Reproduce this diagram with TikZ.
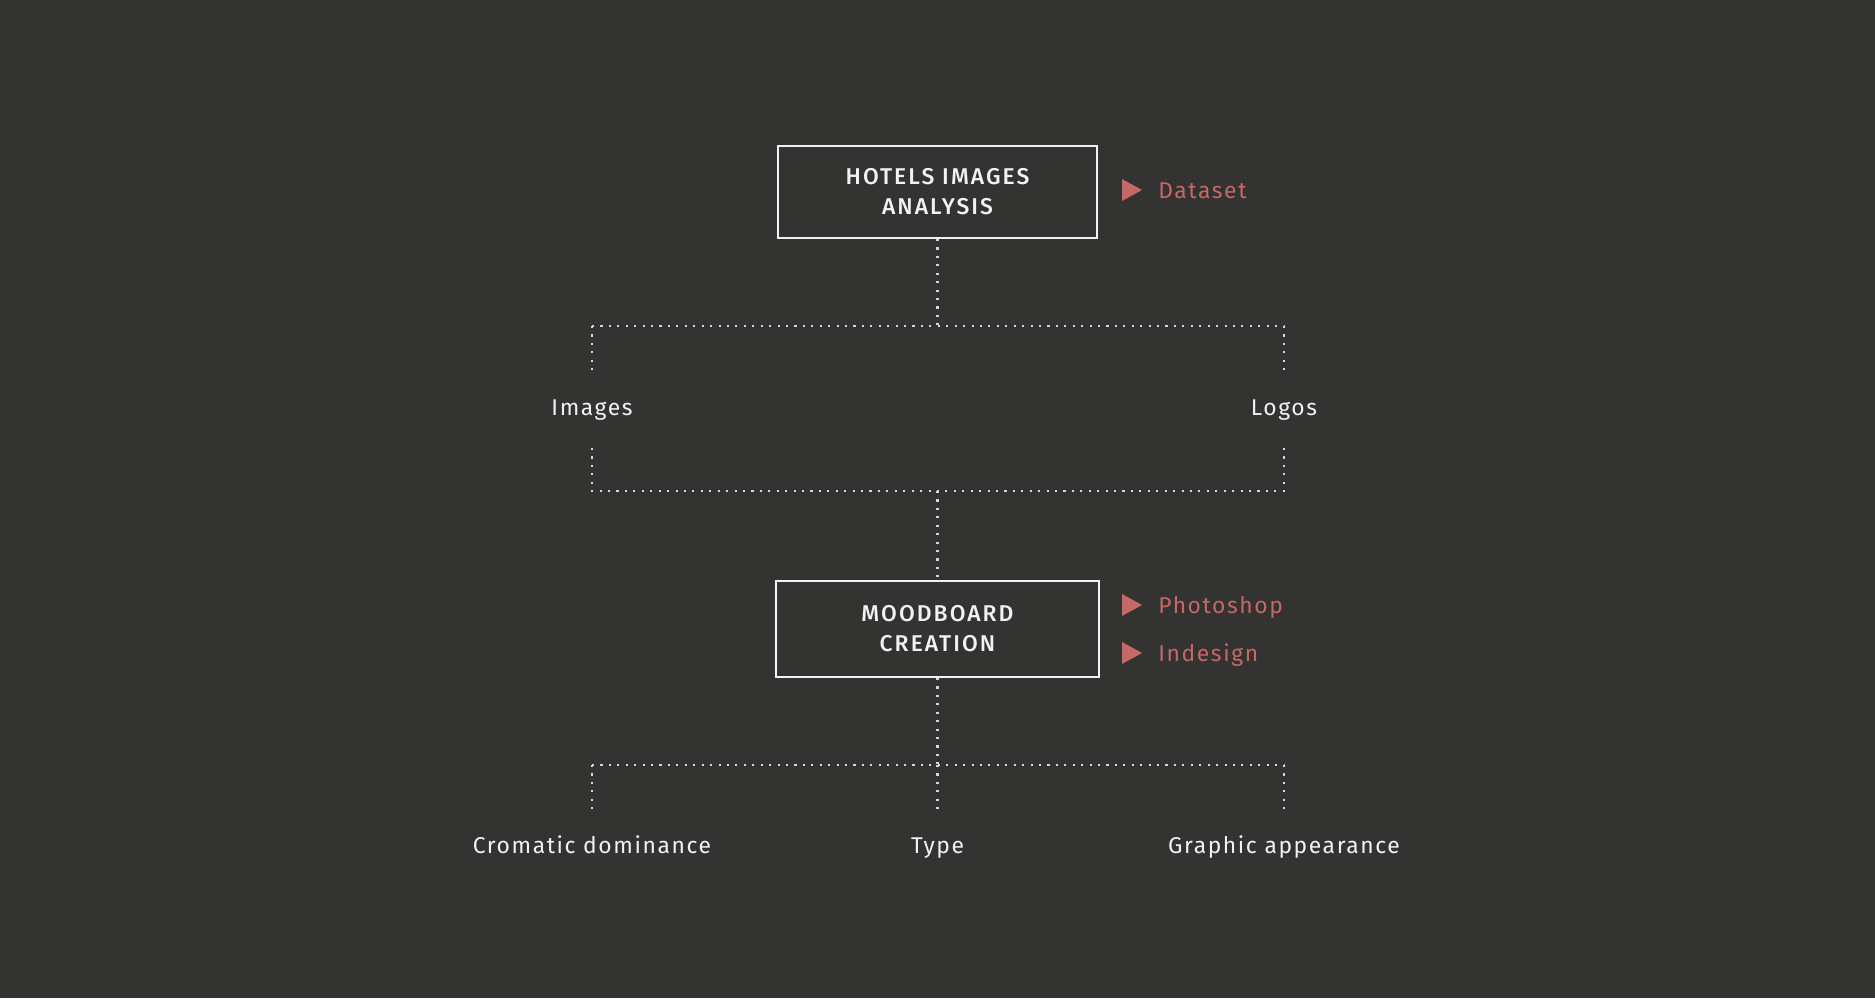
\documentclass[tikz,border=0pt]{standalone}
\usepackage{fontspec}
\setmainfont{Fira Sans}[LetterSpace=7,BoldFont={Fira Sans Medium},BoldFeatures={LetterSpace=9}]
\usetikzlibrary{positioning}
\definecolor{bgdark}{RGB}{51,51,49}
\definecolor{salmon}{RGB}{196,104,104}
\definecolor{dotgray}{RGB}{215,215,215}
\definecolor{paper}{RGB}{242,242,242}

\begin{document}
\begin{tikzpicture}[x=0.02cm,y=-0.02cm,
  stage/.style={draw=paper,line width=1.1pt,text=paper,align=center,
    font=\fontsize{13}{17}\selectfont\bfseries,inner sep=0pt},
  leaf/.style={text=paper,font=\fontsize{13}{17}\selectfont,inner sep=0pt,anchor=base},
  tool/.style={text=salmon,font=\fontsize{13}{17}\selectfont,inner sep=0pt,anchor=base west},
  link/.style={dotgray,line width=1.2pt,dash pattern=on 1.2pt off 3.6pt}]
  \fill[bgdark] (0,0) rectangle (1875,998);
  \useasboundingbox (0,0) rectangle (1875,998);

  % stages
  \node[stage,minimum width=6.38cm,minimum height=1.84cm] (hotels) at (937.5,192) {HOTELS IMAGES\\ANALYSIS};
  \node[stage,minimum width=6.46cm,minimum height=1.92cm] (mood) at (937.5,629) {MOODBOARD\\CREATION};

  % tools
  \node[tool] (dataset) at (1158,198) {Dataset};
  \node[tool] (photoshop) at (1158,613) {Photoshop};
  \node[tool] (indesign) at (1158,661) {Indesign};
  \foreach \t in {dataset,photoshop,indesign}
    \fill[salmon] (\t.base west) ++(-36,-19) -- ++(20,11) -- ++(-20,11) -- cycle;

  % leaves
  \node[leaf] (images) at (592,415) {Images};
  \node[leaf] (logos) at (1284,415) {Logos};
  \node[leaf] (cromatic) at (592,853) {Cromatic dominance};
  \node[leaf] (type) at (937.5,853) {Type};
  \node[leaf] (graphic) at (1284,853) {Graphic appearance};

  % forks
  \coordinate (forkA) at (937.5,326);
  \coordinate (forkA-l) at (592,326);
  \coordinate (forkA-r) at (1284,326);
  \coordinate (images-in) at (592,371);
  \coordinate (logos-in) at (1284,371);
  \coordinate (images-out) at (592,448);
  \coordinate (logos-out) at (1284,448);
  \coordinate (forkB) at (937.5,491);
  \coordinate (forkB-l) at (592,491);
  \coordinate (forkB-r) at (1284,491);
  \coordinate (forkC) at (937.5,765);
  \coordinate (forkC-l) at (592,765);
  \coordinate (forkC-r) at (1284,765);
  \coordinate (cromatic-in) at (592,810);
  \coordinate (type-in) at (937.5,810);
  \coordinate (graphic-in) at (1284,810);

  \draw[link] (hotels.south) -- (forkA);
  \draw[link] (forkA-l) -- (forkA-r);
  \draw[link] (forkA-l) -- (images-in);
  \draw[link] (forkA-r) -- (logos-in);
  \draw[link] (images-out) -- (forkB-l) -- (forkB-r) -- (logos-out);
  \draw[link] (forkB) -- (mood.north);
  \draw[link] (mood.south) -- (forkC);
  \draw[link] (forkC-l) -- (forkC-r);
  \draw[link] (forkC-l) -- (cromatic-in);
  \draw[link] (forkC) -- (type-in);
  \draw[link] (forkC-r) -- (graphic-in);
\end{tikzpicture}
\end{document}
